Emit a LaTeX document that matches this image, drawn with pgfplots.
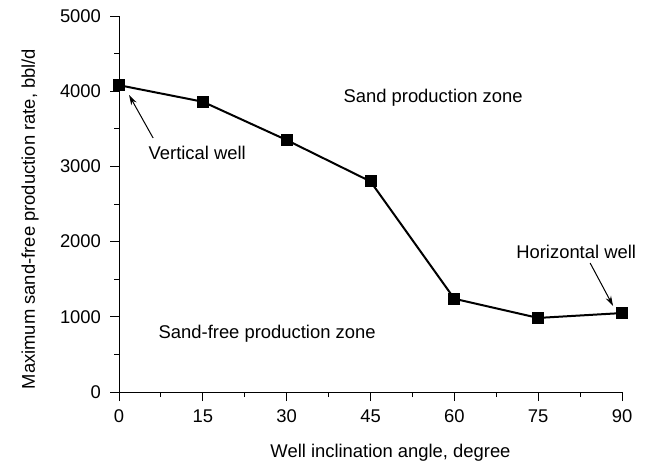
\documentclass[border=0pt]{standalone}
\usepackage{pgfplots}
\pgfplotsset{compat=1.18}
\usepackage{fontspec}
\setmainfont{Liberation Sans}
\usetikzlibrary{arrows.meta}
\begin{document}
\begin{tikzpicture}
\begin{axis}[
  scale only axis,
  width=251.5pt, height=188pt,
  axis lines*=left,
  xmin=0, xmax=90, ymin=0, ymax=5000,
  xtick={0,15,30,45,60,75,90},
  ytick={0,1000,2000,3000,4000,5000},
  minor x tick num=1, minor y tick num=1,
  tick align=outside,
  major tick length=4.5pt, minor tick length=2.5pt,
  tick style={black, line width=0.5pt},
  axis line style={line width=0.5pt},
  /pgf/number format/assume math mode=true,
  /pgf/number format/1000 sep={},
  font=\fontsize{9.2}{11}\selectfont,
  ticklabel style={font=\fontsize{9.2}{11}\selectfont},
  xlabel={Well inclination angle, degree},
  ylabel={Maximum sand-free production rate, bbl/d},
  xlabel style={at={(axis description cs:0.5,0)}, anchor=center, yshift=-30.5pt, xshift=10pt},
  ylabel style={at={(axis description cs:0,0.5)}, anchor=center, yshift=44.5pt, xshift=-7.5pt},
  yticklabel style={xshift=-1pt},
  xticklabel style={yshift=-1pt},
  clip=false,
]
\addplot[black, line width=1pt, mark=square*, mark size=2.5pt, mark options={solid}]
  coordinates {(0,4080) (15,3860) (30,3350) (45,2800) (60,1240) (75,985) (90,1050)};
\node at (axis cs:56.2,3910) {Sand production zone};
\node at (axis cs:14,3180) {Vertical well};
\node at (axis cs:26.5,771) {Sand-free production zone};
\node at (axis cs:81.8,1862) {Horizontal well};
\draw[-{Stealth[length=5pt,width=3pt]}, line width=0.5pt] (axis cs:6.1,3378) -- (axis cs:1.8,3949);
\draw[-{Stealth[length=5pt,width=3pt]}, line width=0.5pt] (axis cs:84.3,1715) -- (axis cs:88.4,1144);
\coordinate (O) at (axis cs:0,0);
\coordinate (T) at (axis cs:90,5000);
\end{axis}
\pgfresetboundingbox
\path[use as bounding box] ([xshift=-59.5pt,yshift=-36.5pt]O) rectangle ([xshift=15pt,yshift=8pt]T);
\end{tikzpicture}
\end{document}
